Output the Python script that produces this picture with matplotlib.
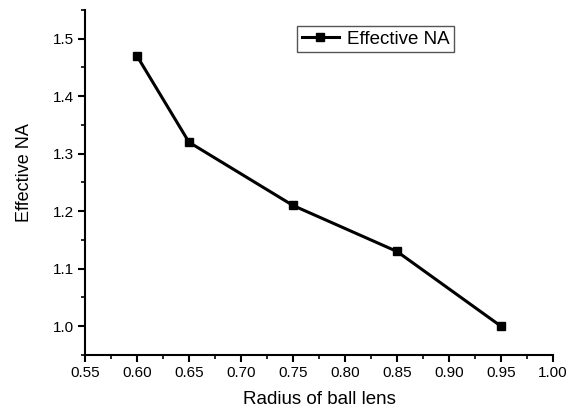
import matplotlib
matplotlib.use('Agg')
import matplotlib.pyplot as plt
from matplotlib.ticker import MultipleLocator

plt.rcParams['font.family'] = ['Liberation Sans', 'DejaVu Sans']

radius = [0.60, 0.65, 0.75, 0.85, 0.95]
effective_na = [1.47, 1.32, 1.21, 1.13, 1.00]

fig = plt.figure(figsize=(5.69, 4.11), dpi=100)
ax = fig.add_axes([0.1494, 0.1363, 0.8225, 0.8394])

ax.plot(radius, effective_na, color='black', linewidth=2.2, marker='s',
        markersize=6, label='Effective NA')

ax.set_xlim(0.55, 1.00)
ax.set_ylim(0.95, 1.55)
ax.xaxis.set_major_locator(MultipleLocator(0.05))
ax.xaxis.set_minor_locator(MultipleLocator(0.025))
ax.yaxis.set_major_locator(MultipleLocator(0.1))
ax.yaxis.set_minor_locator(MultipleLocator(0.05))
ax.xaxis.set_major_formatter(plt.FormatStrFormatter('%.2f'))
ax.yaxis.set_major_formatter(plt.FormatStrFormatter('%.1f'))

for s in ['top', 'right']:
    ax.spines[s].set_visible(False)
for s in ['left', 'bottom']:
    ax.spines[s].set_linewidth(1.5)

ax.tick_params(which='major', direction='out', length=5, width=1.5, labelsize=11, pad=3)
ax.tick_params(which='minor', direction='out', length=3, width=1.2)

ax.set_xlabel('Radius of ball lens', fontsize=13.5, labelpad=8)
ax.set_ylabel('Effective NA', fontsize=13)
ax.yaxis.set_label_coords(-0.112, 0.53)

leg = ax.legend(loc='upper left', bbox_to_anchor=(0.453, 0.954), borderaxespad=0,
                fontsize=13.5, fancybox=False, framealpha=1, edgecolor='#555555',
                handlelength=2.0, handletextpad=0.4, borderpad=0.25)
leg.get_frame().set_linewidth(1.0)

fig.savefig('out.png', dpi=100)
